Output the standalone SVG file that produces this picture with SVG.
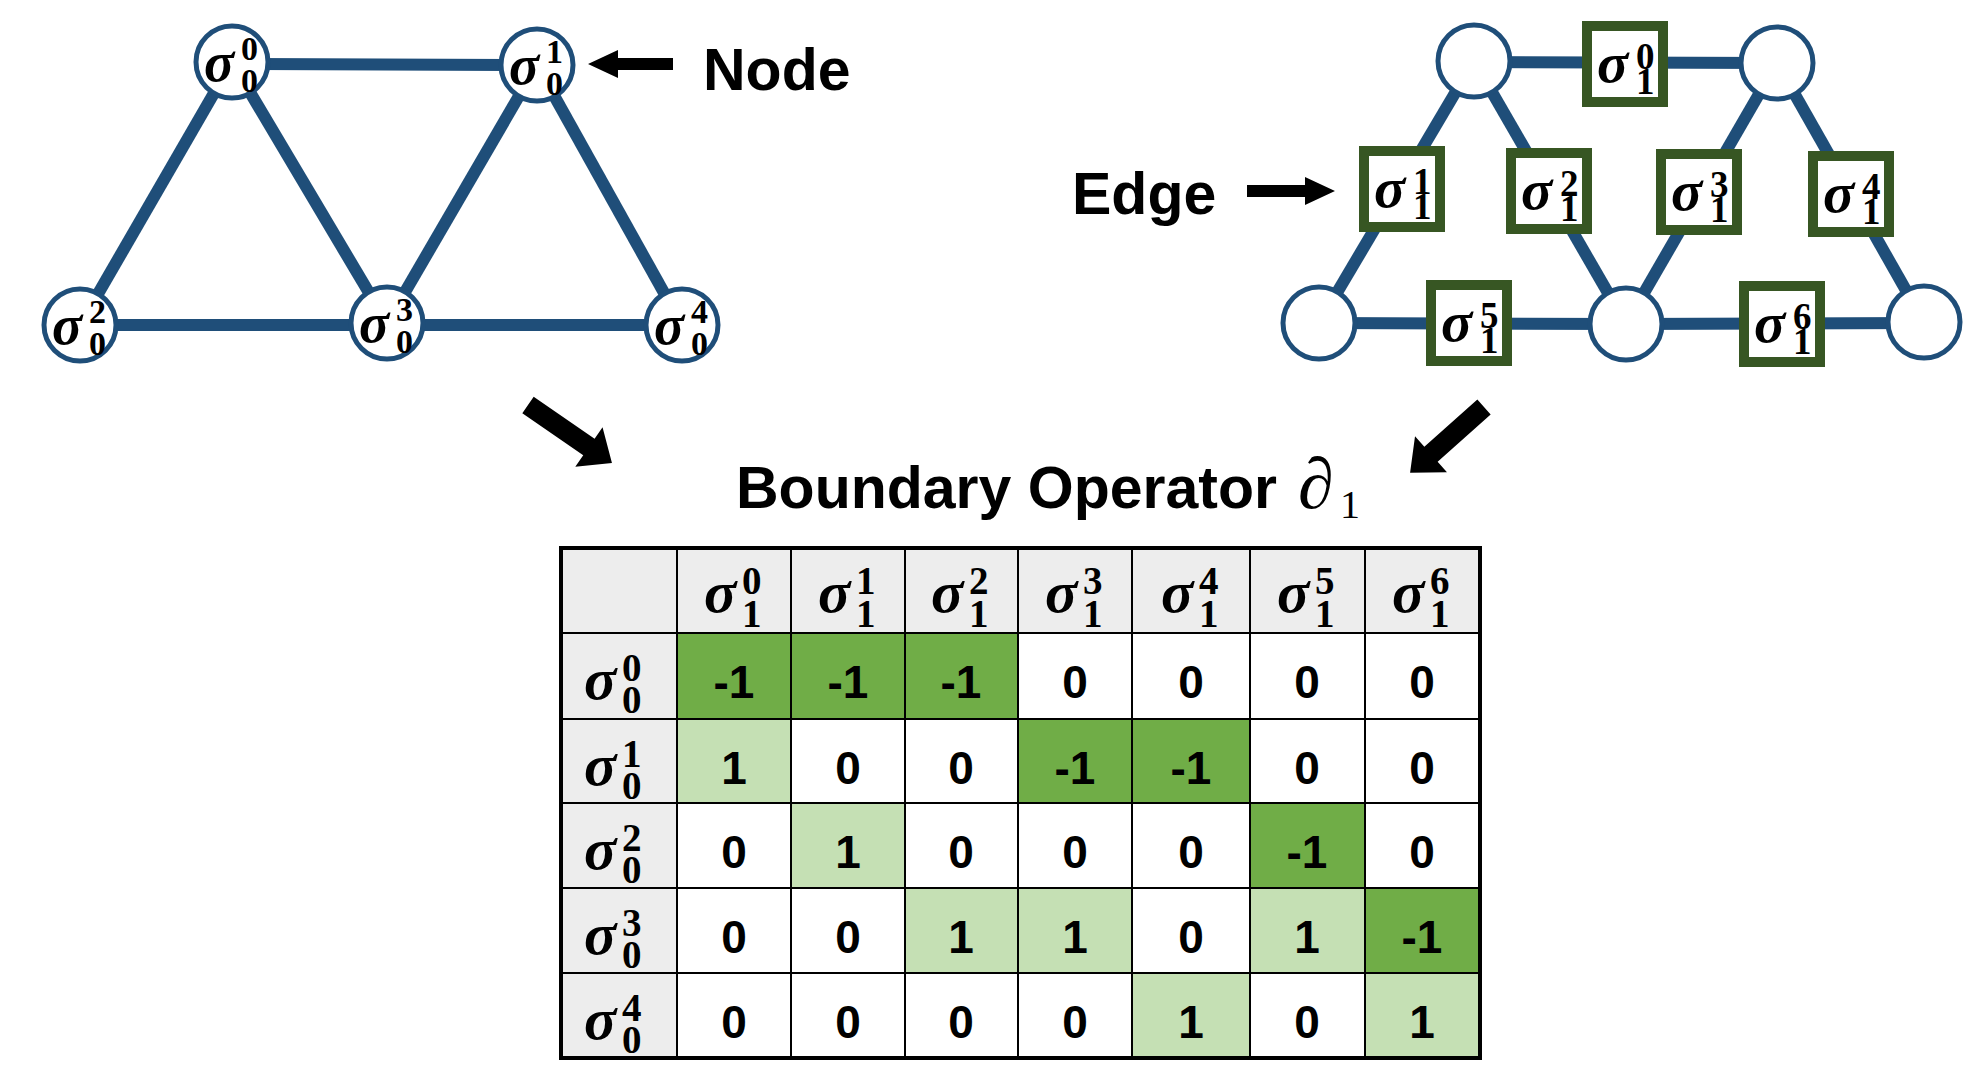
<svg xmlns="http://www.w3.org/2000/svg" width="1976" height="1078" viewBox="0 0 1976 1078">
<defs>
<style>
.edge{stroke:#1F4E79;stroke-width:12;fill:none}
.nd{fill:#fff;stroke:#1F4E79;stroke-width:5}
.bx{fill:#fff;stroke:#375623;stroke-width:10}
.sig{font-family:"Liberation Serif",serif;font-weight:bold;font-style:italic}
.dig{font-family:"Liberation Serif",serif;font-weight:bold;font-style:normal}
.lbl{font-family:"Liberation Sans",Arial,sans-serif;font-weight:bold;font-size:59px}
.pd{font-family:"Liberation Serif",serif;font-style:italic;font-weight:normal;font-size:72px}
.ps{font-family:"Liberation Serif",serif;font-style:normal;font-weight:normal;font-size:40px}
.val{font-family:"Liberation Sans",Arial,sans-serif;font-weight:bold;font-size:46px;text-anchor:middle}
.hd{fill:#EDEDED}
.dk{fill:#70AD47}
.lt{fill:#C5E0B4}
.grid{stroke:#000;stroke-width:2}
.n48{font-size:56px}.n32{font-size:34px}
.b52{font-size:58px}.b36{font-size:37px}
.t54{font-size:60px}.t38{font-size:39px}
</style>
</defs>
<rect width="1976" height="1078" fill="#fff"/>

<!-- Left graph connectors -->
<g id="left-edges">
<line class="edge" x1="232" y1="64" x2="537" y2="65"/>
<line class="edge" x1="232" y1="62" x2="80" y2="325"/>
<line class="edge" x1="232" y1="62" x2="387" y2="323"/>
<line class="edge" x1="537" y1="65" x2="387" y2="323"/>
<line class="edge" x1="537" y1="65" x2="682" y2="325"/>
<line class="edge" x1="80" y1="325" x2="387" y2="325"/>
<line class="edge" x1="387" y1="325" x2="682" y2="325"/>
</g>

<g id="node-s00"><circle class="nd" cx="232" cy="62" r="36"/><text class="sig n48" x="204" y="81">σ<tspan class="dig n32" x="241" y="60">0</tspan><tspan class="dig n32" x="241" y="92">0</tspan></text></g>
<g id="node-s01"><circle class="nd" cx="537" cy="65" r="36"/><text class="sig n48" x="509" y="84">σ<tspan class="dig n32" x="546" y="63">1</tspan><tspan class="dig n32" x="546" y="95">0</tspan></text></g>
<g id="node-s02"><circle class="nd" cx="80" cy="325" r="36"/><text class="sig n48" x="52" y="344">σ<tspan class="dig n32" x="89" y="323">2</tspan><tspan class="dig n32" x="89" y="355">0</tspan></text></g>
<g id="node-s03"><circle class="nd" cx="387" cy="323" r="36"/><text class="sig n48" x="359" y="342">σ<tspan class="dig n32" x="396" y="321">3</tspan><tspan class="dig n32" x="396" y="353">0</tspan></text></g>
<g id="node-s04"><circle class="nd" cx="682" cy="325" r="36"/><text class="sig n48" x="654" y="344">σ<tspan class="dig n32" x="691" y="323">4</tspan><tspan class="dig n32" x="691" y="355">0</tspan></text></g>

<g id="node-label">
<polygon points="588,64 618,50 618,58 673,58 673,70 618,70 618,78" fill="#000"/>
<text class="lbl" x="703" y="90">Node</text>
</g>

<!-- Right graph connectors -->
<g id="right-edges">
<line class="edge" x1="1474" y1="62" x2="1777" y2="63"/>
<line class="edge" x1="1474" y1="61" x2="1319" y2="323"/>
<line class="edge" x1="1474" y1="61" x2="1626" y2="324"/>
<line class="edge" x1="1777" y1="63" x2="1626" y2="324"/>
<line class="edge" x1="1777" y1="63" x2="1924" y2="322"/>
<line class="edge" x1="1319" y1="323" x2="1626" y2="324"/>
<line class="edge" x1="1626" y1="324" x2="1924" y2="323"/>
</g>

<g id="rnode-a"><circle class="nd" cx="1474" cy="61" r="36"/></g>
<g id="rnode-b"><circle class="nd" cx="1777" cy="63" r="36"/></g>
<g id="rnode-c"><circle class="nd" cx="1319" cy="323" r="36"/></g>
<g id="rnode-d"><circle class="nd" cx="1626" cy="324" r="36"/></g>
<g id="rnode-e"><circle class="nd" cx="1924" cy="322" r="36"/></g>

<g id="edge-s10"><rect class="bx" x="1587" y="26" width="76" height="76"/><text class="sig b52" x="1597" y="82">σ<tspan class="dig b36" x="1636" y="69">0</tspan><tspan class="dig b36" x="1636" y="94">1</tspan></text></g>
<g id="edge-s11"><rect class="bx" x="1364" y="151" width="76" height="76"/><text class="sig b52" x="1374" y="207">σ<tspan class="dig b36" x="1413" y="194">1</tspan><tspan class="dig b36" x="1413" y="219">1</tspan></text></g>
<g id="edge-s12"><rect class="bx" x="1511" y="153" width="76" height="76"/><text class="sig b52" x="1521" y="209">σ<tspan class="dig b36" x="1560" y="196">2</tspan><tspan class="dig b36" x="1560" y="221">1</tspan></text></g>
<g id="edge-s13"><rect class="bx" x="1661" y="154" width="76" height="76"/><text class="sig b52" x="1671" y="210">σ<tspan class="dig b36" x="1710" y="197">3</tspan><tspan class="dig b36" x="1710" y="222">1</tspan></text></g>
<g id="edge-s14"><rect class="bx" x="1813" y="156" width="76" height="76"/><text class="sig b52" x="1823" y="212">σ<tspan class="dig b36" x="1862" y="199">4</tspan><tspan class="dig b36" x="1862" y="224">1</tspan></text></g>
<g id="edge-s15"><rect class="bx" x="1431" y="285" width="76" height="76"/><text class="sig b52" x="1441" y="341">σ<tspan class="dig b36" x="1480" y="328">5</tspan><tspan class="dig b36" x="1480" y="353">1</tspan></text></g>
<g id="edge-s16"><rect class="bx" x="1744" y="286" width="76" height="76"/><text class="sig b52" x="1754" y="342">σ<tspan class="dig b36" x="1793" y="329">6</tspan><tspan class="dig b36" x="1793" y="354">1</tspan></text></g>

<g id="edge-label">
<text class="lbl" x="1072" y="214">Edge</text>
<polygon points="1335,191 1305,177 1305,185 1247,185 1247,197 1305,197 1305,205" fill="#000"/>
</g>

<!-- Big arrows -->
<g id="arrows">
<polygon transform="translate(528,405) rotate(34.6)" points="0,-10 74,-10 74,-24 102,0 74,24 74,10 0,10" fill="#000"/>
<polygon transform="translate(1484,407) rotate(138.3)" points="0,-10 71,-10 71,-24 99,0 71,24 71,10 0,10" fill="#000"/>
</g>

<!-- Title -->
<g id="title">
<text class="lbl" x="736" y="508">Boundary Operator</text>
<text class="pd" x="1298" y="508">∂</text>
<text class="ps" x="1340" y="518">1</text>
</g>

<!-- Table -->
<g id="table">
<rect class="hd" x="561" y="548" width="919" height="85"/>
<rect class="hd" x="561" y="548" width="116" height="510"/>
<rect class="dk" x="677" y="633" width="114" height="86"/>
<rect class="dk" x="791" y="633" width="114" height="86"/>
<rect class="dk" x="905" y="633" width="113" height="86"/>
<rect class="lt" x="677" y="719" width="114" height="84"/>
<rect class="dk" x="1018" y="719" width="114" height="84"/>
<rect class="dk" x="1132" y="719" width="118" height="84"/>
<rect class="lt" x="791" y="803" width="114" height="85"/>
<rect class="dk" x="1250" y="803" width="115" height="85"/>
<rect class="lt" x="905" y="888" width="113" height="85"/>
<rect class="lt" x="1018" y="888" width="114" height="85"/>
<rect class="lt" x="1250" y="888" width="115" height="85"/>
<rect class="dk" x="1365" y="888" width="115" height="85"/>
<rect class="lt" x="1132" y="973" width="118" height="85"/>
<rect class="lt" x="1365" y="973" width="115" height="85"/>

<g class="grid">
<line x1="677" y1="548" x2="677" y2="1058"/>
<line x1="791" y1="548" x2="791" y2="1058"/>
<line x1="905" y1="548" x2="905" y2="1058"/>
<line x1="1018" y1="548" x2="1018" y2="1058"/>
<line x1="1132" y1="548" x2="1132" y2="1058"/>
<line x1="1250" y1="548" x2="1250" y2="1058"/>
<line x1="1365" y1="548" x2="1365" y2="1058"/>
<line x1="561" y1="633" x2="1480" y2="633"/>
<line x1="561" y1="719" x2="1480" y2="719"/>
<line x1="561" y1="803" x2="1480" y2="803"/>
<line x1="561" y1="888" x2="1480" y2="888"/>
<line x1="561" y1="973" x2="1480" y2="973"/>
</g>
<rect x="561" y="548" width="919" height="510" fill="none" stroke="#000" stroke-width="4"/>

<text class="sig t54" x="704" y="612">σ<tspan class="dig t38" x="742" y="594">0</tspan><tspan class="dig t38" x="742" y="627">1</tspan></text>
<text class="sig t54" x="818" y="612">σ<tspan class="dig t38" x="856" y="594">1</tspan><tspan class="dig t38" x="856" y="627">1</tspan></text>
<text class="sig t54" x="931" y="612">σ<tspan class="dig t38" x="969" y="594">2</tspan><tspan class="dig t38" x="969" y="627">1</tspan></text>
<text class="sig t54" x="1045" y="612">σ<tspan class="dig t38" x="1083" y="594">3</tspan><tspan class="dig t38" x="1083" y="627">1</tspan></text>
<text class="sig t54" x="1161" y="612">σ<tspan class="dig t38" x="1199" y="594">4</tspan><tspan class="dig t38" x="1199" y="627">1</tspan></text>
<text class="sig t54" x="1277" y="612">σ<tspan class="dig t38" x="1315" y="594">5</tspan><tspan class="dig t38" x="1315" y="627">1</tspan></text>
<text class="sig t54" x="1392" y="612">σ<tspan class="dig t38" x="1430" y="594">6</tspan><tspan class="dig t38" x="1430" y="627">1</tspan></text>

<text class="sig t54" x="584" y="699">σ<tspan class="dig t38" x="622" y="681">0</tspan><tspan class="dig t38" x="622" y="713">0</tspan></text>
<text class="sig t54" x="584" y="785">σ<tspan class="dig t38" x="622" y="767">1</tspan><tspan class="dig t38" x="622" y="799">0</tspan></text>
<text class="sig t54" x="584" y="869">σ<tspan class="dig t38" x="622" y="851">2</tspan><tspan class="dig t38" x="622" y="883">0</tspan></text>
<text class="sig t54" x="584" y="954">σ<tspan class="dig t38" x="622" y="936">3</tspan><tspan class="dig t38" x="622" y="968">0</tspan></text>
<text class="sig t54" x="584" y="1039">σ<tspan class="dig t38" x="622" y="1021">4</tspan><tspan class="dig t38" x="622" y="1053">0</tspan></text>

<g class="val">
<text x="734" y="698">-1</text><text x="848" y="698">-1</text><text x="961" y="698">-1</text><text x="1075" y="698">0</text><text x="1191" y="698">0</text><text x="1307" y="698">0</text><text x="1422" y="698">0</text>
<text x="734" y="784">1</text><text x="848" y="784">0</text><text x="961" y="784">0</text><text x="1075" y="784">-1</text><text x="1191" y="784">-1</text><text x="1307" y="784">0</text><text x="1422" y="784">0</text>
<text x="734" y="868">0</text><text x="848" y="868">1</text><text x="961" y="868">0</text><text x="1075" y="868">0</text><text x="1191" y="868">0</text><text x="1307" y="868">-1</text><text x="1422" y="868">0</text>
<text x="734" y="953">0</text><text x="848" y="953">0</text><text x="961" y="953">1</text><text x="1075" y="953">1</text><text x="1191" y="953">0</text><text x="1307" y="953">1</text><text x="1422" y="953">-1</text>
<text x="734" y="1038">0</text><text x="848" y="1038">0</text><text x="961" y="1038">0</text><text x="1075" y="1038">0</text><text x="1191" y="1038">1</text><text x="1307" y="1038">0</text><text x="1422" y="1038">1</text>
</g>
</g>
</svg>
